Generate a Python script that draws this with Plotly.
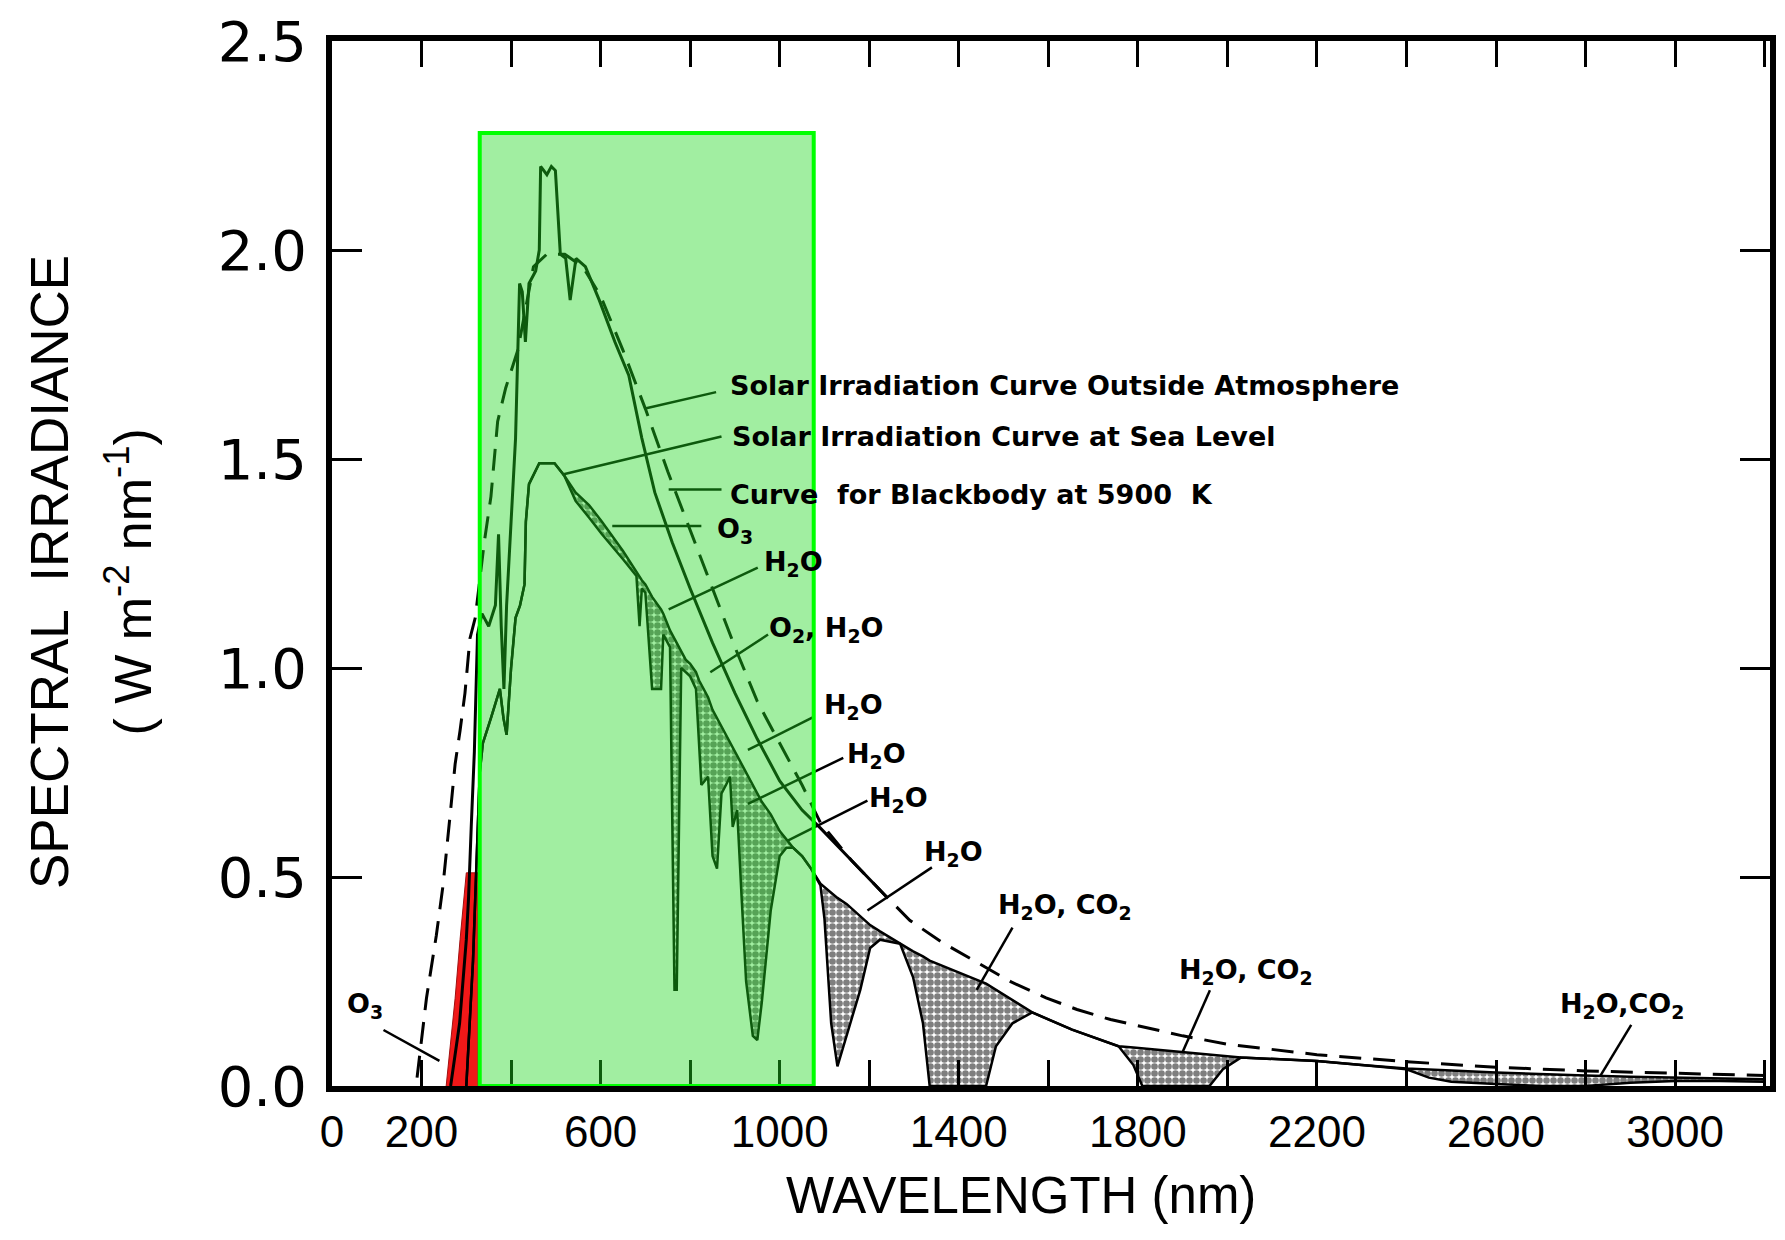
import plotly.graph_objects as go

# ---------------- data ----------------
# Solar irradiation curve outside atmosphere (solid)
outside_nm = [265, 285, 300, 305, 311, 318, 325, 335, 350, 365, 372, 378, 384, 390, 400, 410,
              419, 425, 432, 440, 455, 463, 466, 480, 490, 499, 510, 522, 532, 545, 566, 597,
              632, 663, 692, 721, 760, 800, 850, 900, 950, 1000, 1050, 1091, 1160, 1240]
outside_val = [0.0, 0.15, 0.35, 0.45, 0.62, 0.80, 1.08, 1.13, 1.10, 1.15, 1.32, 1.10, 0.95, 1.15, 1.35, 1.55,
               1.92, 1.90, 1.78, 1.92, 1.95, 2.00, 2.20, 2.18, 2.20, 2.19, 1.99, 1.98, 1.88, 1.98, 1.96, 1.88,
               1.78, 1.70, 1.55, 1.42, 1.30, 1.19, 1.06, 0.94, 0.83, 0.73, 0.66, 0.617, 0.54, 0.451]

# Curve for blackbody at 5900 K (dashed)
bb_nm = [190, 211, 233, 248, 264, 275, 286, 297, 308, 320, 340, 355, 370, 388, 415, 435, 450, 480,
         520, 560, 600, 650, 700, 750, 800, 850, 900, 950, 1000, 1050, 1091, 1160, 1240, 1291, 1362,
         1435, 1517, 1595, 1664, 1739, 1817, 1900, 2000, 2200, 2400, 2600, 2800, 3000, 3200]
bb_val = [0.02, 0.21, 0.36, 0.48, 0.65, 0.77, 0.85, 0.94, 1.07, 1.12, 1.30, 1.41, 1.59, 1.67, 1.76, 1.88, 1.96, 1.99,
          1.99, 1.96, 1.89, 1.76, 1.62, 1.47, 1.33, 1.19, 1.05, 0.92, 0.82, 0.72, 0.63, 0.54, 0.451, 0.396, 0.344,
          0.30, 0.249, 0.211, 0.183, 0.159, 0.14, 0.12, 0.10, 0.075, 0.058, 0.045, 0.036, 0.030, 0.025]

# Solar irradiation at sea level: envelope (no absorption) and actual curve with absorption bands
sea_nm = [300, 315, 330, 337, 355, 375, 383, 390, 400, 410, 420, 430, 433, 440, 463, 497, 519, 544, 574,
          603, 650, 680, 687, 692, 700, 710, 715, 735, 740, 755, 765, 770, 780, 790, 800, 813, 820, 825,
          840, 850, 860, 870, 880, 889, 895, 905, 915, 925, 940, 950, 960, 980, 1000, 1015, 1030, 1050,
          1070, 1091, 1100, 1115, 1129, 1150, 1180, 1202, 1224, 1269, 1298, 1320, 1335, 1461, 1483, 1520,
          1564, 1653, 1757, 1790, 1810, 1960, 1990, 2030, 2200, 2300, 2400, 2450, 2500, 2600, 2700, 2800,
          2900, 3000, 3100, 3200]
sea_envelope = [0.0, 0.30, 0.75, 0.82, 0.88, 0.95, 0.88, 0.84, 1.00, 1.12, 1.15, 1.20, 1.35, 1.44, 1.49, 1.49, 1.46, 1.42, 1.39,
                1.35, 1.28, 1.23, 1.22, 1.21, 1.20, 1.18, 1.17, 1.14, 1.13, 1.09, 1.07, 1.06, 1.04, 1.02, 1.01, 0.99, 0.97, 0.96,
                0.93, 0.90, 0.88, 0.86, 0.84, 0.82, 0.81, 0.79, 0.77, 0.75, 0.72, 0.70, 0.68, 0.65, 0.61, 0.59, 0.57, 0.55,
                0.52, 0.484, 0.476, 0.462, 0.45, 0.435, 0.405, 0.385, 0.37, 0.34, 0.322, 0.31, 0.30, 0.245, 0.23, 0.205,
                0.176, 0.135, 0.095, 0.092, 0.09, 0.075, 0.072, 0.068, 0.060, 0.050, 0.042, 0.040, 0.037, 0.032, 0.028, 0.025,
                0.022, 0.020, 0.018, 0.016]
sea_level = [0.0, 0.30, 0.75, 0.82, 0.88, 0.95, 0.88, 0.84, 1.00, 1.12, 1.15, 1.20, 1.35, 1.44, 1.49, 1.49, 1.46, 1.40, 1.36,
             1.32, 1.26, 1.22, 1.10, 1.19, 1.18, 1.02, 0.95, 0.95, 1.08, 1.05, 0.23, 0.23, 1.00, 0.99, 0.98, 0.95, 0.80, 0.72,
             0.74, 0.55, 0.52, 0.70, 0.72, 0.74, 0.62, 0.66, 0.45, 0.25, 0.12, 0.11, 0.20, 0.42, 0.55, 0.57, 0.57, 0.55,
             0.52, 0.48, 0.40, 0.15, 0.047, 0.12, 0.23, 0.33, 0.35, 0.34, 0.26, 0.15, 0.0, 0.0, 0.095, 0.15,
             0.176, 0.135, 0.095, 0.05, 0.0, 0.0, 0.04, 0.068, 0.060, 0.050, 0.040, 0.02, 0.010, 0.005, 0.0, 0.0,
             0.008, 0.012, 0.012, 0.010]

# UV band highlighted in red
uv_nm = [255, 275, 286, 297, 300, 326, 326]
uv_val = [0.0, 0.21, 0.35, 0.48, 0.51, 0.51, 0.0]

# Visible band box
visible_nm = [330, 1076]
visible_top = 2.28

# Axis ticks (labelled ticks; unlabelled ticks every 200 nm are minor ticks)
x_tickvals = [0, 200, 600, 1000, 1400, 1800, 2200, 2600, 3000]
x_ticktext = ["0", "200", "600", "1000", "1400", "1800", "2200", "2600", "3000"]
x_minor_step = 200
y_tickvals = [0.0, 0.5, 1.0, 1.5, 2.0, 2.5]
y_ticktext = ["0.0", "0.5", "1.0", "1.5", "2.0", "2.5"]

# Labels: text, text position (nm, value), anchor, pointer start / end (nm, value)
label_text = ["Solar Irradiation Curve Outside Atmosphere",
              "Solar Irradiation Curve at Sea Level",
              "Curve  for Blackbody at 5900  K",
              "O<sub>3</sub>",
              "H<sub>2</sub>O",
              "O<sub>2</sub>, H<sub>2</sub>O",
              "H<sub>2</sub>O",
              "H<sub>2</sub>O",
              "H<sub>2</sub>O",
              "H<sub>2</sub>O",
              "H<sub>2</sub>O, CO<sub>2</sub>",
              "H<sub>2</sub>O, CO<sub>2</sub>",
              "H<sub>2</sub>O,CO<sub>2</sub>",
              "O<sub>3</sub>"]
label_x = [885, 890, 885, 855, 960, 972, 1094, 1145, 1196, 1318, 1484, 1888, 2738, 73]
label_y = [1.675, 1.554, 1.415, 1.33, 1.25, 1.093, 0.907, 0.79, 0.685, 0.556, 0.43, 0.274, 0.193, 0.193]
label_anchor = ["left", "left", "left", "left", "left", "left", "left", "left", "left", "left", "left", "left", "left", "center"]
ptr_x0 = [858, 870, 870, 825, 951, 974, 1076, 1142, 1196, 1340, 1520, 1961, 2902, 115]
ptr_y0 = [1.66, 1.554, 1.427, 1.34, 1.24, 1.08, 0.883, 0.785, 0.683, 0.523, 0.379, 0.229, 0.146, 0.134]
ptr_x1 = [697, 515, 752, 626, 752, 845, 929, 929, 1018, 1196, 1440, 1899, 2833, 240]
ptr_y1 = [1.62, 1.463, 1.427, 1.34, 1.14, 0.99, 0.804, 0.675, 0.587, 0.42, 0.23, 0.079, 0.024, 0.06]

# ---------------- figure ----------------
fig = go.Figure()

fig.add_trace(go.Scatter(x=uv_nm, y=uv_val, mode="lines", fill="toself",
                         fillcolor="#f01818", line=dict(color="#a01010", width=1),
                         hoverinfo="skip", showlegend=False))

fig.add_trace(go.Scatter(x=sea_nm, y=sea_envelope, mode="lines",
                         line=dict(color="black", width=2.5), showlegend=False))

fig.add_trace(go.Scatter(x=sea_nm, y=sea_level, mode="lines", fill="tonexty",
                         fillcolor="rgba(0,0,0,0)",
                         fillpattern=dict(shape=".", size=7, solidity=0.7,
                                          fgcolor="black", bgcolor="white"),
                         line=dict(color="black", width=2.5), showlegend=False))

fig.add_trace(go.Scatter(x=outside_nm, y=outside_val, mode="lines",
                         line=dict(color="black", width=3), showlegend=False))

fig.add_trace(go.Scatter(x=bb_nm, y=bb_val, mode="lines",
                         line=dict(color="black", width=3, dash="22px,12px"), showlegend=False))

label_font = dict(family="DejaVu Sans", size=27, color="black")
shapes = []
annotations = []
for i, t in enumerate(label_text):
    shapes.append(dict(type="line", xref="x", yref="y",
                       x0=ptr_x0[i], y0=ptr_y0[i], x1=ptr_x1[i], y1=ptr_y1[i],
                       line=dict(color="black", width=2.5), layer="above"))
    annotations.append(dict(x=label_x[i], y=label_y[i], xref="x", yref="y",
                            text="<b>" + t + "</b>", showarrow=False,
                            xanchor=label_anchor[i], yanchor="middle", font=label_font))

# visible band box (drawn over the curves)
shapes.append(dict(type="rect", xref="x", yref="y",
                   x0=visible_nm[0], x1=visible_nm[1], y0=0, y1=visible_top,
                   fillcolor="rgba(30,215,30,0.42)",
                   line=dict(color="#00ff00", width=4), layer="above"))

# axis titles
annotations.append(dict(x=-0.196, y=0.492, xref="paper", yref="paper",
                        text="SPECTRAL  IRRADIANCE", textangle=-90, showarrow=False,
                        xanchor="center", yanchor="middle",
                        font=dict(family="Liberation Sans", size=53, color="black")))
annotations.append(dict(x=-0.141, y=0.482, xref="paper", yref="paper",
                        text="( W m<sup>-2</sup> nm<sup>-1</sup>)", textangle=-90, showarrow=False,
                        xanchor="center", yanchor="middle",
                        font=dict(family="Liberation Sans", size=52, color="black")))
annotations.append(dict(x=0.479, y=-0.105, xref="paper", yref="paper",
                        text="WAVELENGTH (nm)", showarrow=False,
                        xanchor="center", yanchor="middle",
                        font=dict(family="Liberation Sans", size=51, color="black")))

# the page body adds an 8px offset; the figure is sized so the plot lands where the original sits
fig.update_layout(
    width=1769, height=1224,
    margin=dict(l=324, r=1, t=27, b=146),
    paper_bgcolor="white", plot_bgcolor="white",
    shapes=shapes, annotations=annotations,
    showlegend=False,
)
fig.update_xaxes(range=[0, 3212], tickvals=x_tickvals, ticktext=x_ticktext,
                 ticks="inside", ticklen=26, tickwidth=3, tickcolor="black",
                 minor=dict(tick0=0, dtick=x_minor_step, ticks="inside", ticklen=26,
                            tickwidth=3, tickcolor="black", showgrid=False),
                 showline=True, linecolor="black", linewidth=6, mirror="ticks",
                 showgrid=False, zeroline=False, ticklabelstandoff=2,
                 ticklabeloverflow="allow",
                 tickfont=dict(family="Liberation Sans", size=44, color="black"))
fig.update_yaxes(range=[0, 2.5], tickvals=y_tickvals, ticktext=y_ticktext,
                 ticks="inside", ticklen=30, tickwidth=3, tickcolor="black",
                 showline=True, linecolor="black", linewidth=6, mirror="ticks",
                 showgrid=False, zeroline=False, ticklabelstandoff=8,
                 ticklabeloverflow="allow",
                 tickfont=dict(family="DejaVu Sans", size=56, color="black"))

fig.write_html("out.html")
